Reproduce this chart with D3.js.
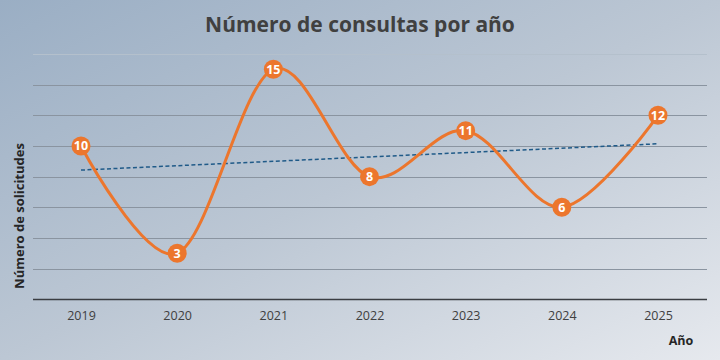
<!DOCTYPE html>
<html><head><meta charset="utf-8">
<script src="https://cdn.jsdelivr.net/npm/d3@7"></script>
<style>body{margin:0}svg{display:block}</style>
</head><body>
<script>
const years = ["2019","2020","2021","2022","2023","2024","2025"];
const values = [10,3,15,8,11,6,12];
const yTicks = [0,2,4,6,8,10,12,14,16];

const W=720,H=360;
const svg=d3.select("body").append("svg").attr("width",W).attr("height",H)
  .style("font-family","'Open Sans','Noto Sans',sans-serif");
const defs=svg.append("defs");
const g=defs.append("linearGradient").attr("id","bg").attr("x1","0").attr("y1","0").attr("x2","1").attr("y2","1");
g.append("stop").attr("offset","0").attr("stop-color","#9aaec4");
g.append("stop").attr("offset","0.5").attr("stop-color","#bcc7d4");
g.append("stop").attr("offset","1").attr("stop-color","#e6e9ee");
svg.append("rect").attr("width",W).attr("height",H).attr("fill","url(#bg)");

const x=d3.scalePoint().domain(years).range([81,658]);
const y=d3.scaleLinear().domain([0,16]).range([299.3,54]);

svg.append("g").selectAll("line").data(yTicks.slice(1)).join("line")
  .attr("x1",33).attr("x2",707).attr("y1",d=>Math.round(y(d))+0.5).attr("y2",d=>Math.round(y(d))+0.5)
  .attr("stroke",(d)=>d===16?"#b4c0cc":"#8a94a0").attr("stroke-width",1);

svg.append("line").attr("x1",33).attr("x2",707).attr("y1",299.5).attr("y2",299.5)
  .attr("stroke","#3a3d42").attr("stroke-width",1.5);

const xAxis=d3.axisBottom(x).tickSize(0).tickPadding(12);
const ax=svg.append("g").attr("transform","translate(0,299.5)").call(xAxis);
ax.select(".domain").remove();
ax.selectAll("text").attr("font-size",12.5).attr("fill","#404040").attr("font-family","'Open Sans','Noto Sans',sans-serif");

// trendline (least squares from data)
const n=values.length, idx=d3.range(n);
const mx=d3.mean(idx), my=d3.mean(values);
const slope=d3.sum(idx,i=>(i-mx)*(values[i]-my))/d3.sum(idx,i=>(i-mx)**2);
const icpt=my-slope*mx;
svg.append("line").attr("x1",x(years[0])).attr("x2",x(years[n-1]))
  .attr("y1",y(icpt)).attr("y2",y(icpt+slope*(n-1)))
  .attr("stroke","#1f5a88").attr("stroke-width",1.5).attr("stroke-dasharray","4,2.5");

const line=d3.line().x((d,i)=>x(years[i])).y(d=>y(d)).curve(d3.curveCardinal.tension(0));
svg.append("path").attr("d",line(values)).attr("fill","none").attr("stroke","#ec762d").attr("stroke-width",3);

const pts=svg.append("g").selectAll("g").data(values).join("g")
  .attr("transform",(d,i)=>`translate(${x(years[i])},${y(d)})`);
pts.append("circle").attr("r",9.5).attr("fill","#ec762d");
pts.append("text").text(d=>d).attr("text-anchor","middle").attr("dy","0.36em")
  .attr("font-size",12.5).attr("font-weight","bold").attr("fill","#fff");

svg.append("text").attr("x",360).attr("y",32).attr("text-anchor","middle")
  .attr("font-size",21).attr("font-weight","bold").attr("fill","#404040").text("Número de consultas por año");
svg.append("text").attr("transform","translate(24,216) rotate(-90)").attr("text-anchor","middle")
  .attr("font-size",13).attr("font-weight","bold").attr("fill","#262626").text("Número de solicitudes");
svg.append("text").attr("x",681).attr("y",345).attr("text-anchor","middle")
  .attr("font-size",12.5).attr("font-weight","bold").attr("fill","#262626").text("Año");
</script>
</body></html>
